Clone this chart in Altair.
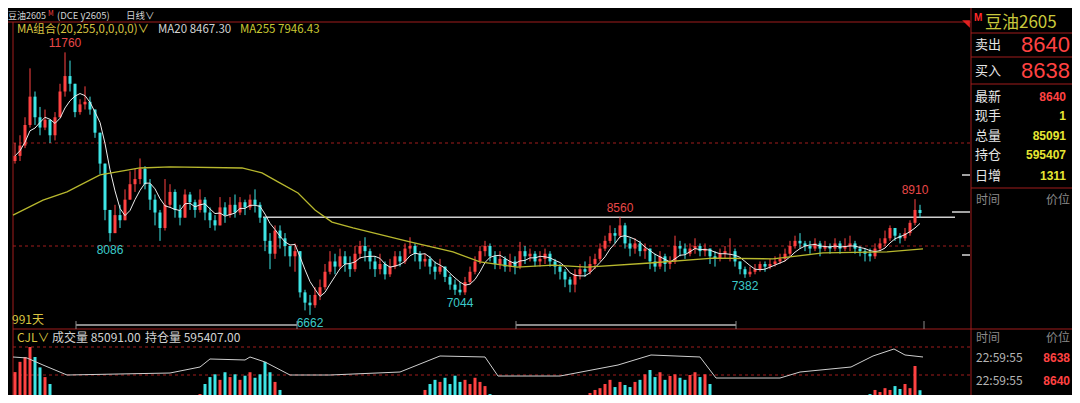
import altair as alt
import pandas as pd

# ---------------- data ----------------
# one candle per ~5 trading days, index 0..181
closes = [
    9750, 9950, 10350, 10900, 10500, 10300, 10450, 10150, 10500, 11000,
    11300, 11150, 10600, 10750, 10800, 10650, 10200, 9600, 8700, 8250,
    8600, 8500, 8900, 9200, 9300, 9500, 9200, 8900, 8650, 8350,
    8800, 9050, 8700, 8550, 9000, 8850, 8700, 8900, 8650, 8500,
    8400, 8750, 8600, 8800, 8650, 8850, 8750, 8900, 8800, 8550,
    8100, 7850, 8300, 8150, 8000, 7800, 7900, 7100, 6900, 6850,
    7050, 7200, 7500, 7700, 7600, 7800, 7650, 7550, 7850, 8000,
    7900, 7700, 7550, 7650, 7450, 7600, 7800, 7700, 7950, 8000,
    7850, 7700, 7750, 7600, 7500, 7600, 7400, 7250, 7150, 7100,
    7300, 7500, 7700, 7900, 8000, 7800, 7650, 7750, 7600, 7700,
    7600, 7900, 7800, 7850, 7700, 7750, 7850, 7700, 7600, 7500,
    7350, 7250, 7450, 7550, 7500, 7650, 7750, 7950, 8100, 8250,
    8200, 8400, 8050, 7950, 8050, 7900, 7950, 7700, 7600, 7800,
    7650, 7700, 8000, 7950, 7850, 7950, 8000, 7900, 7950, 7800,
    7750, 7850, 7900, 7900, 7700, 7550, 7450, 7500, 7550, 7650,
    7600, 7650, 7700, 7750, 7850, 8000, 8100, 8050, 8000, 7950,
    8050, 7950, 8000, 7950, 8050, 7950, 8000, 8050, 7950, 7900,
    7850, 7800, 7950, 8050, 8150, 8350, 8200, 8150, 8250, 8450,
    8700, 8640,
]
highs = [
    10000, 10150, 10500, 11450, 11000, 10700, 10650, 10400, 10600, 11150,
    11760, 11600, 10800, 10850, 11100, 10900, 10650, 10200, 9500, 8700,
    8800, 8800, 9100, 9450, 9500, 9700, 9550, 9300, 9000, 8700,
    9300, 9200, 9100, 8800, 9100, 9050, 8900, 9100, 8950, 8750,
    8600, 8950, 8850, 8950, 9000, 8950, 8900, 9000, 9100, 8850,
    8500, 8250, 8400, 8400, 8250, 8000, 8050, 7500, 7150, 7050,
    7200, 7350, 7650, 7900, 7850, 7950, 7900, 7800, 8000, 8100,
    8170, 7950, 7800, 7850, 7700, 7750, 7900, 7900, 8050, 8170,
    8050, 7900, 7850, 7800, 7700, 7750, 7600, 7450, 7350, 7300,
    7400, 7600, 7800, 8000, 8100, 8050, 7900, 7900, 7800, 7850,
    7800, 8080, 8000, 7950, 7900, 7900, 7950, 7900, 7750, 7650,
    7550, 7400, 7550, 7650, 7700, 7800, 7850, 8050, 8200, 8400,
    8350, 8560, 8450, 8150, 8150, 8100, 8050, 7950, 7850, 7900,
    7850, 7800, 8200, 8100, 8050, 8050, 8150, 8050, 8050, 7950,
    7900, 7950, 8000, 8150, 7950, 7700, 7600, 7600, 7650, 7700,
    7700, 7750, 7800, 7850, 7950, 8100, 8200, 8250, 8100, 8100,
    8150, 8100, 8100, 8050, 8150, 8100, 8150, 8200, 8100, 8000,
    7950, 7950, 8050, 8150, 8300, 8400, 8350, 8250, 8350, 8500,
    8910, 8800,
]
lows = [
    9600, 9650, 9900, 10300, 10350, 10150, 10250, 10000, 10050, 10500,
    10900, 11000, 10500, 10550, 10650, 10550, 10100, 9400, 8500, 8086,
    8300, 8350, 8600, 8900, 9050, 9200, 9100, 8700, 8400, 8100,
    8300, 8750, 8550, 8400, 8550, 8700, 8550, 8650, 8500, 8350,
    8300, 8400, 8450, 8550, 8550, 8600, 8600, 8700, 8650, 8450,
    7900, 7550, 7750, 7950, 7800, 7600, 7500, 7000, 6750, 6662,
    6800, 6950, 7150, 7450, 7450, 7550, 7500, 7400, 7500, 7750,
    7700, 7550, 7400, 7450, 7350, 7400, 7550, 7600, 7650, 7850,
    7700, 7550, 7600, 7450, 7350, 7450, 7300, 7150, 7050, 7044,
    7050, 7250, 7450, 7650, 7800, 7700, 7550, 7550, 7500, 7500,
    7450, 7550, 7650, 7700, 7600, 7600, 7650, 7600, 7450, 7350,
    7200, 7100, 7100, 7350, 7400, 7450, 7550, 7700, 7900, 8050,
    8050, 8150, 7950, 7800, 7850, 7800, 7750, 7550, 7500, 7550,
    7500, 7550, 7650, 7800, 7750, 7800, 7850, 7800, 7800, 7650,
    7600, 7700, 7750, 7700, 7600, 7450, 7382, 7400, 7450, 7500,
    7500, 7550, 7600, 7650, 7700, 7800, 7950, 7950, 7900, 7850,
    7900, 7800, 7900, 7850, 7900, 7850, 7900, 7900, 7850, 7800,
    7700, 7700, 7750, 7900, 8000, 8100, 8100, 8050, 8100, 8200,
    8400, 8550,
]
volumes = [
    216000, 290000, 325000, 397000, 325000, 250000, 180000, 130000, 43000, 15000,
    12000, 10000, 9000, 8000, 7000, 8000, 9000, 10000, 9000, 8000,
    7000, 6000, 6000, 5000, 5000, 6000, 5000, 6000, 7000, 6000,
    7000, 8000, 9000, 10000, 12000, 15000, 25000, 58000, 130000, 180000,
    200000, 160000, 215000, 180000, 200000, 160000, 190000, 215000, 175000, 200000,
    290000, 215000, 145000, 87000, 29000, 12000, 9000, 7000, 6000, 5000,
    5000, 6000, 7000, 8000, 9000, 10000, 12000, 13000, 14000, 15000,
    16000, 17000, 18000, 17000, 16000, 15000, 14000, 15000, 17000, 19000,
    24000, 36000, 87000, 130000, 160000, 145000, 175000, 130000, 190000, 145000,
    160000, 130000, 175000, 145000, 115000, 58000, 22000, 12000, 10000, 12000,
    14000, 16000, 18000, 20000, 22000, 20000, 24000, 26000, 25000, 28000,
    30000, 32000, 36000, 43000, 50000, 65000, 87000, 100000, 130000, 160000,
    108000, 145000, 123000, 108000, 145000, 160000, 200000, 231000, 180000, 215000,
    160000, 188000, 200000, 175000, 160000, 195000, 215000, 180000, 200000, 130000,
    43000, 15000, 10000, 8000, 7000, 6000, 7000, 8000, 9000, 10000,
    11000, 12000, 13000, 14000, 15000, 16000, 18000, 20000, 19000, 22000,
    24000, 21000, 25000, 27000, 24000, 28000, 30000, 26000, 32000, 35000,
    45000, 58000, 87000, 72000, 100000, 87000, 115000, 94000, 130000, 100000,
    260000, 85091,
]
first_open = 9650

ma255_idx = [-0.4, 5.6, 10.4, 17, 25, 31, 45.4, 49.4, 52.6, 56.6, 60, 63.4, 67.6,
             79, 87.6, 93, 100.4, 107.6, 114.4, 127, 139.6, 151.6, 161.6, 174.4, 181.6]
ma255_val = [8600, 8890, 9050, 9380, 9515, 9535, 9515, 9420, 9245, 9030, 8700, 8465, 8350,
             8080, 7885, 7690, 7590, 7630, 7590, 7670, 7765, 7750, 7865, 7885, 7946]

oi_idx = [-0.4, 2.4, 5.6, 10.4, 31, 37, 39, 46, 47, 50, 55, 63, 77, 85, 94, 96.6, 109,
          120.6, 127.2, 137, 140.2, 153, 157, 167.2, 171.6, 175.8, 178, 181.6]
oi_val = [595400, 582800, 494300, 368000, 393200, 469000, 570100, 557500, 595400, 532200,
          368000, 368000, 405800, 608000, 595400, 355300, 355300, 494300, 620700, 595400,
          330000, 330000, 405800, 469000, 608000, 696500, 620700, 595407]

hi_marks_idx = [10, 121, 180]
hi_marks_val = [11760, 8560, 8910]
lo_marks_idx = [19, 59, 89, 146]
lo_marks_val = [8086, 6662, 7044, 7382]
resist_from_idx, resist_to_idx, resist_price = 49.6, 188, 8560

# ---------------- styling / layout ----------------
OX, OY = 8, 8          # page margin: reference pixel -> chart pixel
RED, CYAN = "#ff4242", "#3ee6e6"
LIGHT, YEL, YEL2, OLIVE, VYEL = "#d2d2d2", "#d8c440", "#c8c832", "#c8c83c", "#e6e632"
GRID_RED, GRAY = "#a01c1c", "#8a8a8a"
CJK, NUM = "Noto Sans CJK SC", "Liberation Sans"

n = len(closes)
assert len(highs) == n and len(lows) == n and len(volumes) == n, (n, len(highs), len(lows), len(volumes))
opens = [first_open] + closes[:-1]
df = pd.DataFrame({"i": list(range(n)), "open": opens, "close": closes,
                   "high": highs, "low": lows, "vol": volumes})
df["high"] = df[["high", "open", "close"]].max(axis=1)
df["low"] = df[["low", "open", "close"]].min(axis=1)
df["col"] = [RED if c >= o else CYAN for o, c in zip(opens, closes)]
df["zero"] = 0

xs = alt.Scale(domain=[0, 181], range=[15 - OX, 920 - OX])
ps = alt.Scale(domain=[6000, 12000], range=[349 - OY, 40 - OY])
vs = alt.Scale(domain=[0, 520000], range=[402 - OY, 330 - OY])
oscale = alt.Scale(domain=[300000, 700000], range=[380.4 - OY, 348.7 - OY])

X = alt.X("i:Q", scale=xs, axis=None)
layers = []

# grid / frame lines (reference pixel coordinates)
def seg(x1, y1, x2, y2):
    return {"x": x1 - OX, "x2": x2 - OX, "y": y1 - OY, "y2": y2 - OY}

def rules(segs, **kw):
    return alt.Chart(pd.DataFrame(segs)).mark_rule(**kw).encode(
        x=alt.X("x:Q", scale=None), x2="x2:Q", y=alt.Y("y:Q", scale=None), y2="y2:Q")

layers.append(rules([seg(13, 143, 971, 143), seg(13, 246, 971, 246),
                     seg(13, 347, 971, 347), seg(13, 375, 971, 375)],
                    color=GRID_RED, strokeWidth=1, strokeDash=[3, 3]))
layers.append(rules([seg(8, 22, 971, 22), seg(13, 22, 13, 403), seg(13, 329, 1080, 329),
                     seg(971, 0, 971, 403), seg(971, 33, 1080, 33), seg(971, 57, 1080, 57),
                     seg(971, 84, 1080, 84), seg(971, 188, 1080, 188)],
                    color=GRID_RED, strokeWidth=1))
layers.append(rules([seg(76, 325, 297, 325), seg(516, 325, 736, 325)], color=GRAY, strokeWidth=2))
layers.append(rules([seg(76, 321, 76, 329), seg(297, 321, 297, 329), seg(516, 321, 516, 329),
                     seg(736, 321, 736, 329), seg(924, 321, 924, 329)], color=GRAY, strokeWidth=1))
layers.append(rules([seg(952, 212, 970, 212), seg(962, 255, 970, 255), seg(962, 175, 970, 175)],
                    color="#d8d8d8", strokeWidth=1.5))

# resistance line
res_df = pd.DataFrame({"a": [resist_from_idx], "b": [resist_to_idx], "p": [resist_price]})
layers.append(alt.Chart(res_df).mark_rule(color="#cfcfcf", strokeWidth=1.5).encode(
    x=alt.X("a:Q", scale=xs, axis=None), x2="b:Q", y=alt.Y("p:Q", scale=ps, axis=None)))

# candles
layers.append(alt.Chart(df).mark_rule(strokeWidth=1).encode(
    x=X, y=alt.Y("low:Q", scale=ps, axis=None), y2="high:Q", color=alt.Color("col:N", scale=None)))
layers.append(alt.Chart(df).mark_rule(strokeWidth=3).encode(
    x=X, y=alt.Y("open:Q", scale=ps, axis=None), y2="close:Q", color=alt.Color("col:N", scale=None)))

# moving averages
layers.append(alt.Chart(df).transform_window(
    ma20="mean(close)", frame=[-4, 0], sort=[alt.SortField("i")]
).mark_line(color="#ececec", strokeWidth=1).encode(x=X, y=alt.Y("ma20:Q", scale=ps, axis=None)))
ma_df = pd.DataFrame({"i": ma255_idx, "v": ma255_val})
layers.append(alt.Chart(ma_df).mark_line(color="#b8b82e", strokeWidth=1.3).encode(
    x=X, y=alt.Y("v:Q", scale=ps, axis=None)))

# extreme labels
hi_df = pd.DataFrame({"i": hi_marks_idx, "p": hi_marks_val, "t": [str(v) for v in hi_marks_val]})
lo_df = pd.DataFrame({"i": lo_marks_idx, "p": lo_marks_val, "t": [str(v) for v in lo_marks_val]})
layers.append(alt.Chart(hi_df).mark_text(color="#e84848", font=NUM, fontSize=12, dy=-9).encode(
    x=X, y=alt.Y("p:Q", scale=ps, axis=None), text="t:N"))
layers.append(alt.Chart(lo_df).mark_text(color="#3ccaca", font=NUM, fontSize=12, dy=8).encode(
    x=X, y=alt.Y("p:Q", scale=ps, axis=None), text="t:N"))

# volume + open interest
layers.append(alt.Chart(df).mark_rule(strokeWidth=3).encode(
    x=X, y=alt.Y("vol:Q", scale=vs, axis=None), y2="zero:Q", color=alt.Color("col:N", scale=None)))
oi_df = pd.DataFrame({"i": oi_idx, "v": oi_val})
layers.append(alt.Chart(oi_df).mark_line(color="#cfcfcf", strokeWidth=1).encode(
    x=X, y=alt.Y("v:Q", scale=oscale, axis=None)))

# marker triangle
layers.append(alt.Chart(pd.DataFrame({"k": [0]})).mark_point(
    shape="M-1,-1L1,-1L1,1Z", filled=True, size=60, color="#e02020", opacity=1).encode(
    x=alt.value(966 - OX), y=alt.value(24 - OY)))

# texts (reference pixel coordinates)
def texts(rows, **kw):
    d = pd.DataFrame(rows, columns=["t", "x", "y", "c", "s"])
    d["x"] = d["x"] - OX
    d["y"] = d["y"] - OY
    return alt.Chart(d).mark_text(baseline="middle", **kw).encode(
        x=alt.X("x:Q", scale=None), y=alt.Y("y:Q", scale=None), text="t:N",
        color=alt.Color("c:N", scale=None), size=alt.Size("s:Q", scale=None))

layers.append(texts([
    ("豆油2605", 8, 16, LIGHT, 9),
    ("M", 48, 14, RED, 7),
    ("(DCE y2605)", 57, 16, LIGHT, 9.5),
    ("日线∨", 126, 16, LIGHT, 9.5),
    ("MA组合(20,255,0,0,0,0)∨", 17, 30, YEL, 11.5),
    ("MA20 8467.30", 158, 30, LIGHT, 11.5),
    ("MA255 7946.43", 240, 30, YEL2, 11.5),
    ("991天", 12, 320, YEL, 12),
    ("CJL∨", 17, 338, YEL, 12),
    ("成交量 85091.00", 52, 338, LIGHT, 12),
    ("持仓量 595407.00", 145, 338, LIGHT, 12),
    ("豆油2605", 985, 23, OLIVE, 17),
    ("卖出", 975, 45, "#e6e6e6", 13),
    ("买入", 975, 71, "#e6e6e6", 13),
    ("最新", 975, 97, "#e6e6e6", 13),
    ("现手", 975, 116, "#e6e6e6", 13),
    ("总量", 975, 136, "#e6e6e6", 13),
    ("持仓", 975, 155, "#e6e6e6", 13),
    ("日增", 975, 176, "#e6e6e6", 13),
    ("时间", 976, 200, GRAY, 12),
    ("时间", 976, 338, GRAY, 12),
    ("22:59:55", 976, 358, "#b4b4b4", 12),
    ("22:59:55", 976, 381, "#b4b4b4", 12),
], align="left", font=CJK))
layers.append(texts([("M", 974, 18, "#ff2a2a", 10)], align="left", font=NUM, fontWeight="bold"))
layers.append(texts([("价位", 1070, 200, GRAY, 12), ("价位", 1070, 338, GRAY, 12)],
                    align="right", font=CJK))
layers.append(texts([("8640", 1070, 45, RED, 22), ("8638", 1070, 71, RED, 22)],
                    align="right", font=NUM))
layers.append(texts([
    ("8640", 1066, 97, RED, 12),
    ("1", 1066, 116, VYEL, 12),
    ("85091", 1066, 136, VYEL, 12),
    ("595407", 1066, 155, VYEL, 12),
    ("1311", 1066, 176, VYEL, 12),
    ("8638", 1070, 358, RED, 12),
    ("8640", 1070, 381, RED, 12),
], align="right", font=NUM, fontWeight="bold"))

chart = alt.layer(*layers).resolve_scale(x="independent", y="independent").properties(
    width=1064, height=387, autosize=alt.AutoSizeParams(type="none"), padding=0,
    background="#000000",
).configure_view(strokeWidth=0)

chart.save("out.html", embed_options={"renderer": "svg", "actions": False})
